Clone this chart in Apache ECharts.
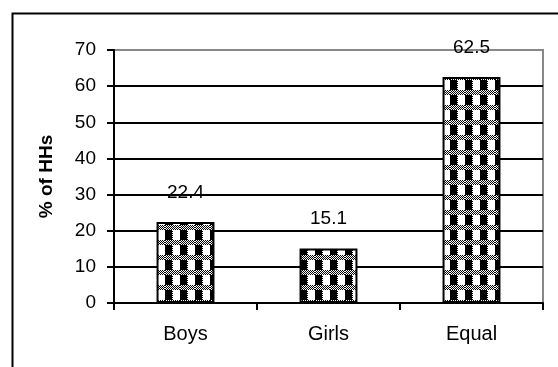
<!DOCTYPE html>
<html>
<head>
<meta charset="utf-8">
<script src="https://cdn.jsdelivr.net/npm/echarts@6/dist/echarts.min.js"></script>
<style>
  html, body { margin: 0; padding: 0; background: #fff; }
  #chart { width: 558px; height: 367px; }
</style>
</head>
<body>
<div id="chart"></div>
<script>
// Share of households by preference
const categories = ['Boys', 'Girls', 'Equal'];
const values = [22.4, 15.1, 62.5];
const yTicks = [0, 10, 20, 30, 40, 50, 60, 70];

// Checkered fill: a dithered band above a row of black/white squares
function makeTile() {
  const c = document.createElement('canvas');
  c.width = 15; c.height = 15;
  const g = c.getContext('2d');
  g.fillStyle = '#fff';
  g.fillRect(0, 0, 15, 15);
  g.fillStyle = '#000';
  for (let y = 0; y < 5; y++) {
    for (let x = 0; x < 15; x++) {
      if ((x + y) % 2 === 0) g.fillRect(x, y, 1, 1);
    }
  }
  g.fillRect(0, 5, 7, 10);
  for (let y = 5; y < 15; y++) {
    if (y % 2 === 0) g.fillRect(7, y, 1, 1);
  }
  return c;
}

const chart = echarts.init(document.getElementById('chart'), null, { renderer: 'canvas' });
const font = 'Liberation Sans, Arial, sans-serif';

chart.setOption({
  animation: false,
  backgroundColor: '#fff',
  graphic: [{
    type: 'rect',
    left: 10, top: 11,
    shape: { width: 700, height: 500 },
    style: { fill: 'none', stroke: '#000', lineWidth: 2 },
    silent: true
  }],
  grid: {
    left: 114, right: 15, top: 50, bottom: 64,
    show: true, borderColor: '#888', borderWidth: 2, backgroundColor: 'transparent'
  },
  xAxis: {
    type: 'category',
    data: categories,
    axisLine: { lineStyle: { color: '#000', width: 2 } },
    axisTick: { show: true, length: 7, lineStyle: { color: '#000', width: 2 } },
    axisLabel: { color: '#000', fontFamily: font, fontSize: 20, margin: 21 }
  },
  yAxis: {
    type: 'value',
    min: yTicks[0], max: yTicks[yTicks.length - 1], interval: 10,
    name: '% of HHs',
    nameLocation: 'middle',
    nameGap: 58,
    nameRotate: 90,
    nameTextStyle: { color: '#000', fontFamily: font, fontSize: 19, fontWeight: 'bold' },
    axisLine: { show: true, lineStyle: { color: '#000', width: 2 } },
    axisTick: { show: true, length: 7, lineStyle: { color: '#000', width: 2 } },
    axisLabel: { color: '#000', fontFamily: font, fontSize: 19, margin: 18 },
    splitLine: { show: true, showMaxLine: false, lineStyle: { color: '#000', width: 2 } }
  },
  series: [{
    type: 'bar',
    data: values,
    barWidth: '40.5%',
    itemStyle: {
      color: { image: makeTile(), repeat: 'repeat' },
      borderColor: '#000',
      borderWidth: 2
    },
    label: {
      show: true,
      position: 'top',
      distance: 20,
      color: '#000',
      fontFamily: font,
      fontSize: 19
    }
  }]
});
</script>
</body>
</html>
